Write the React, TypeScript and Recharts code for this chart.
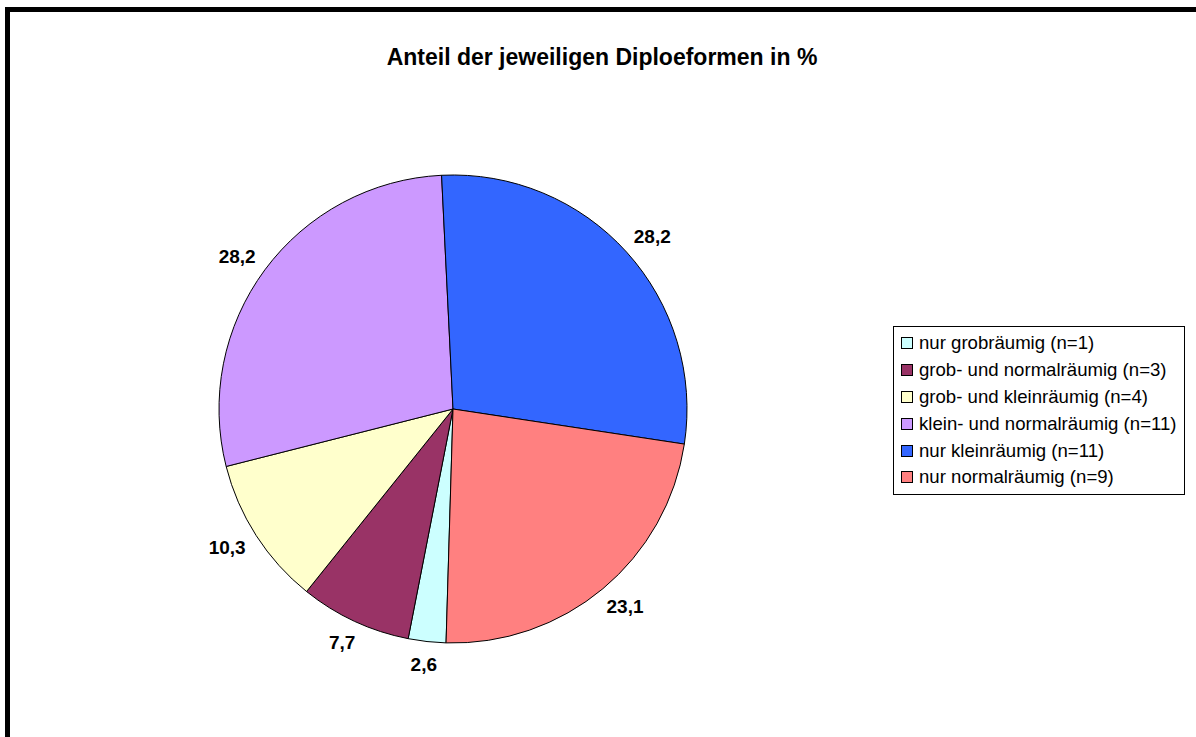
import { PieChart, Pie, Cell, Legend } from "recharts";

const categories = [
  "nur grobräumig (n=1)",
  "grob- und normalräumig (n=3)",
  "grob- und kleinräumig (n=4)",
  "klein- und normalräumig (n=11)",
  "nur kleinräumig (n=11)",
  "nur normalräumig (n=9)",
];
const shares = [2.6, 7.7, 10.3, 28.2, 28.2, 23.1];
const colors = ["#CCFFFF", "#993366", "#FFFFCC", "#CC99FF", "#3366FF", "#FF8080"];

const data = categories.map((name, i) => ({ name, value: shares[i] }));

const FONT = "'Liberation Sans', Arial, sans-serif";
const RADIAN = Math.PI / 180;
const LABEL_SIZE = 19;

// label box sits just outside the rim, pushed out by its own half size
const renderLabel = (props: any) => {
  const { cx, cy, midAngle, outerRadius, value } = props;
  const txt = Number(value).toFixed(1).replace(".", ",");
  const digits = txt.replace(",", "").length;
  const halfW = ((digits * 0.556 + 0.278) * LABEL_SIZE) / 2;
  const halfH = 7;
  const dx = Math.cos(-midAngle * RADIAN);
  const dy = Math.sin(-midAngle * RADIAN);
  const r = outerRadius + 16;
  const x = cx + r * dx + halfW * dx;
  const y = cy + r * dy + halfH * dy;
  return (
    <text
      x={x}
      y={y}
      textAnchor="middle"
      dominantBaseline="central"
      fontFamily={FONT}
      fontWeight="bold"
      fontSize={LABEL_SIZE}
      fill="#000"
    >
      {txt}
    </text>
  );
};

// legend drawn in the data order (recharts would sort it by name)
const LegendBox = () => (
  <div
    style={{
      border: "1px solid #000",
      background: "#fff",
      width: 292,
      padding: "3px 0 3px 7px",
      boxSizing: "border-box",
      fontFamily: FONT,
      fontSize: 18.6,
      color: "#000",
    }}
  >
    {categories.map((name, i) => (
      <div key={name} style={{ display: "flex", alignItems: "center", height: 26.8 }}>
        <span
          style={{
            display: "inline-block",
            width: 10,
            height: 10,
            border: "1px solid #000",
            background: colors[i],
            marginRight: 6,
          }}
        />
        <span style={{ whiteSpace: "nowrap" }}>{name}</span>
      </div>
    ))}
  </div>
);

export default function App() {
  return (
    <div style={{ position: "absolute", left: 0, top: 0, width: 1196, height: 737, overflow: "hidden", background: "#fff" }}>
      <div
        style={{
          position: "absolute",
          left: 5,
          top: 7,
          width: 1300,
          height: 900,
          borderLeft: "5px solid #000",
          borderTop: "5px solid #000",
        }}
      />
      <div
        style={{
          position: "absolute",
          left: 0,
          width: 1204,
          top: 44,
          textAlign: "center",
          fontFamily: FONT,
          fontWeight: "bold",
          fontSize: 23,
          lineHeight: "26px",
          color: "#000",
        }}
      >
        Anteil der jeweiligen Diploeformen in %
      </div>
      <div style={{ position: "absolute", left: 0, top: 0 }}>
        <PieChart width={1196} height={737} margin={{ top: 0, right: 0, bottom: 0, left: 0 }}>
          <Pie
            data={data}
            dataKey="value"
            nameKey="name"
            cx={453}
            cy={409}
            outerRadius={234}
            startAngle={-91.7}
            endAngle={-451.7}
            stroke="#000"
            strokeWidth={1}
            label={renderLabel}
            labelLine={false}
            isAnimationActive={false}
          >
            {data.map((d, i) => (
              <Cell key={d.name} fill={colors[i]} />
            ))}
          </Pie>
          <Legend
            content={<LegendBox />}
            layout="vertical"
            wrapperStyle={{ position: "absolute", left: 893, top: 326, width: 292, bottom: "auto" }}
          />
        </PieChart>
      </div>
    </div>
  );
}
